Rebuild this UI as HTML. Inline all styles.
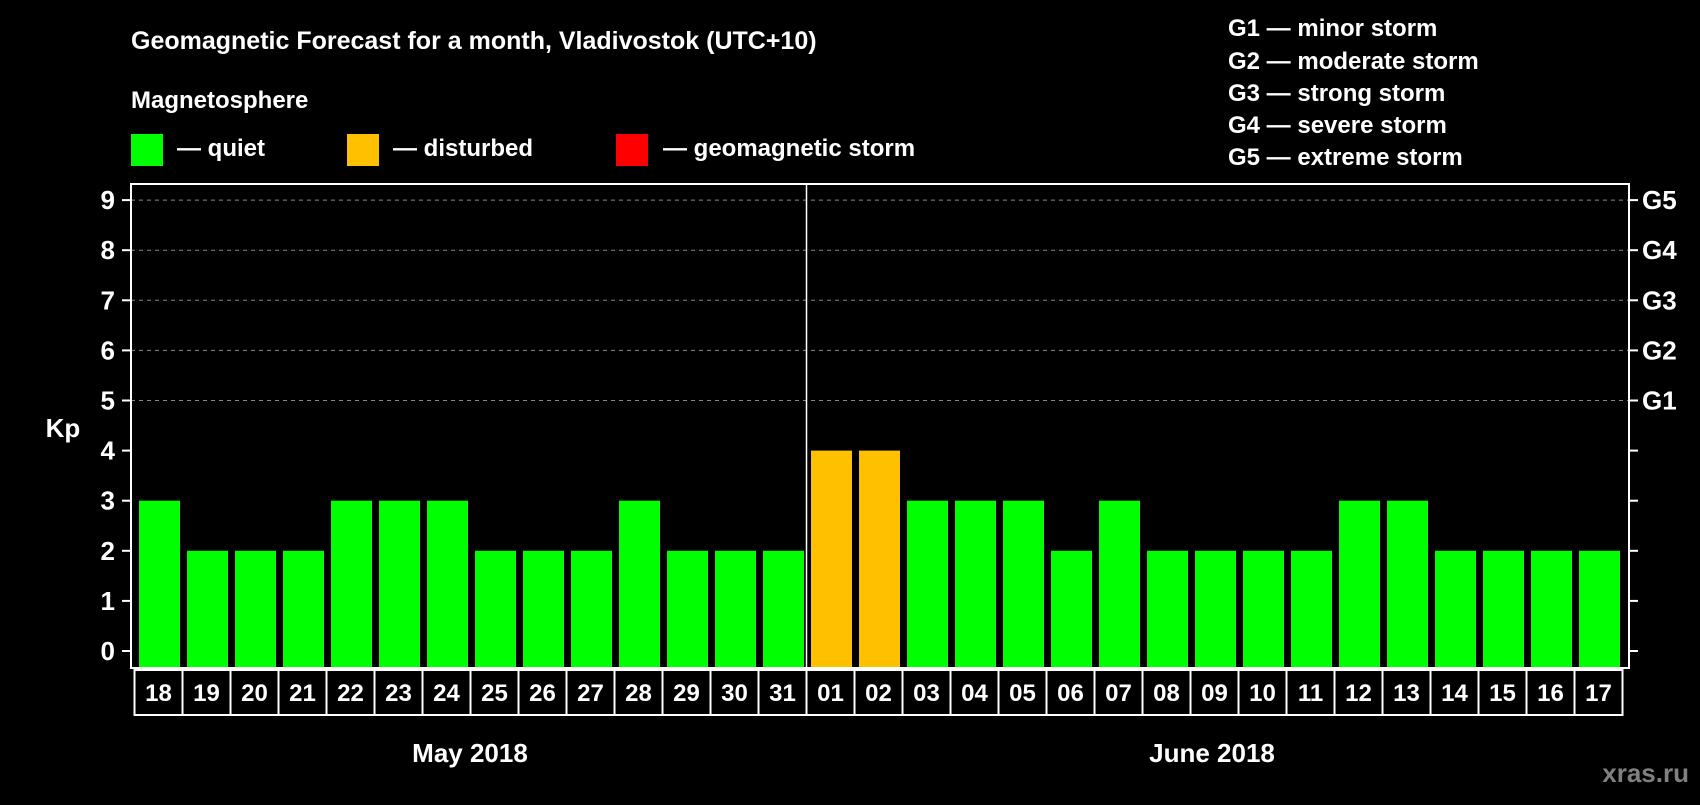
<!DOCTYPE html>
<html><head><meta charset="utf-8"><style>
body{margin:0;background:#000;width:1700px;height:800px;overflow:hidden}
svg text{font-family:"Liberation Sans",sans-serif;font-weight:bold;fill:#fff}
</style></head><body>
<svg id="c" width="1700" height="800">
<text x="131" y="49" font-size="25">Geomagnetic Forecast for a month, Vladivostok (UTC+10)</text>
<text x="131" y="108" font-size="24">Magnetosphere</text>
<rect x="131" y="134" width="32" height="32" fill="#00ff00"/>
<text x="177" y="156" font-size="24">— quiet</text>
<rect x="347" y="134" width="32" height="32" fill="#ffc000"/>
<text x="393" y="156" font-size="24">— disturbed</text>
<rect x="616" y="134" width="32" height="32" fill="#ff0000"/>
<text x="663" y="156" font-size="24">— geomagnetic storm</text>
<g font-size="24">
<text x="1228" y="36">G1 — minor storm</text>
<text x="1228" y="69">G2 — moderate storm</text>
<text x="1228" y="101">G3 — strong storm</text>
<text x="1228" y="133">G4 — severe storm</text>
<text x="1228" y="165">G5 — extreme storm</text>
</g>
<text x="63" y="437" font-size="26" text-anchor="middle">Kp</text>
<g id="grid"></g><g id="bars"></g><g id="labels"></g>
<rect x="131" y="184" width="1498" height="484" fill="none" stroke="#fff" stroke-width="2"/>
<line x1="806.5" y1="184" x2="806.5" y2="668" stroke="#fff" stroke-width="1.5"/>
<text x="470" y="762" font-size="26" text-anchor="middle">May 2018</text>
<text x="1212" y="762" font-size="26" text-anchor="middle">June 2018</text>
<text x="1689" y="782" font-size="26" text-anchor="end" style="fill:#808080">xras.ru</text>
</svg>
<script>
const days=["18","19","20","21","22","23","24","25","26","27","28","29","30","31","01","02","03","04","05","06","07","08","09","10","11","12","13","14","15","16","17"];
const kp=[3,2,2,2,3,3,3,2,2,2,3,2,2,2,4,4,3,3,3,2,3,2,2,2,2,3,3,2,2,2,2];
const yTicks=[0,1,2,3,4,5,6,7,8,9];
const gLabels=["G1","G2","G3","G4","G5"];
const NS="http://www.w3.org/2000/svg";
const y=v=>651-v*50.1;
const x=i=>134.5+i*48;
function mk(t,a,p){const e=document.createElementNS(NS,t);for(const k in a)e.setAttribute(k,a[k]);p.appendChild(e);return e;}
const grid=document.getElementById('grid'),bars=document.getElementById('bars'),labels=document.getElementById('labels');
yTicks.forEach(v=>{
 if(v>=5){const l=mk('line',{x1:131,x2:1629,y1:y(v),y2:y(v),stroke:'#888','stroke-dasharray':'4 4','stroke-width':1},grid);
 
 }
 mk('line',{x1:122,x2:131,y1:y(v),y2:y(v),stroke:'#fff','stroke-width':2},grid);
 mk('line',{x1:1629,x2:1638,y1:y(v),y2:y(v),stroke:'#fff','stroke-width':2},grid);
 const t=mk('text',{x:115,y:y(v)+9,'font-size':26,'text-anchor':'end'},grid);t.textContent=v;
 
 
});
gLabels.forEach((g,i)=>{const t=mk('text',{x:1642,y:y(5+i)+9,'font-size':26},grid);t.textContent=g;
 
 });
kp.forEach((v,i)=>{
 const c=v>=5?'#ff0000':(v>=4?'#ffc000':'#00ff00');
 const r=mk('rect',{x:x(i)+4.5,y:y(v),width:41,height:y(0)-y(v)+16,fill:c},bars);
 
 
 const b=mk('rect',{x:x(i),y:670,width:48,height:45,fill:'#000',stroke:'#fff','stroke-width':2},labels);
 
 
 const t=mk('text',{x:x(i)+24,y:701,'font-size':24,'text-anchor':'middle'},labels);t.textContent=days[i];
 
 
});
</script>
</body></html>
